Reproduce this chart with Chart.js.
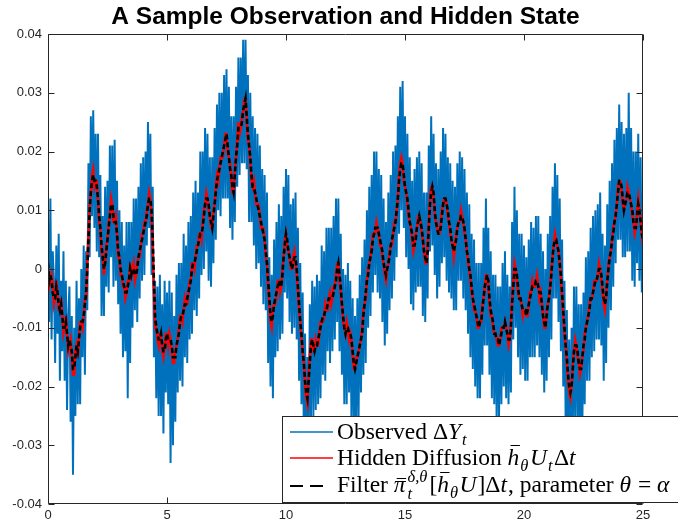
<!DOCTYPE html>
<html><head><meta charset="utf-8">
<style>html,body{margin:0;padding:0;background:#fff}canvas{display:block}</style>
<script src="https://cdn.jsdelivr.net/npm/chart.js@4/dist/chart.umd.min.js"></script>
</head><body>
<div style="width:678px;height:527px"><canvas id="c" width="678" height="527"></canvas></div>
<script>
const titleText = 'A Sample Observation and Hidden State';
const xTickValues = [0, 5, 10, 15, 20, 25];
const yTickValues = [-0.04, -0.03, -0.02, -0.01, 0, 0.01, 0.02, 0.03, 0.04];
const sampleStep = 0.05;

// Observed increments ΔY_t (sampled every 0.05)
const observed = [
.009,-.009,.012,-.012,.003,-.002,-.016,.004,-.011,.006,-.019,-.002,-.014,.003,-.019,-.002,-.024,-.008,-.003,-.026,-.008,
-.035,-.010,-.025,-.002,-.023,-.005,-.023,.000,-.015,.004,-.018,.003,-.007,.018,.002,.026,.009,.027,.007,.023,
.003,.023,.002,.016,-.008,.009,-.008,.014,-.003,.015,-.004,.021,.002,.021,-.003,.022,-.002,.015,-.006,.010,
-.011,.008,-.015,.004,-.014,.008,-.022,.008,-.016,.008,-.010,.012,-.007,.012,-.009,.014,-.005,.018,-.002,.019,
-.001,.020,.004,.025,.007,.023,-.001,.014,-.015,-.002,-.022,-.003,-.025,-.001,-.025,-.006,-.028,-.002,-.021,-.004,
-.023,-.002,-.033,-.004,-.030,-.008,-.026,-.001,-.021,.001,-.019,.001,-.020,.006,-.015,.004,-.016,.008,-.012,.009,
-.011,.013,-.007,.015,-.008,.013,-.005,.020,-.001,.020,.000,.024,.003,.023,-.002,.019,-.003,.019,.001,.024,
.005,.028,.010,.030,.009,.030,.012,.033,.012,.034,.012,.031,.007,.026,.005,.026,.008,.031,.014,.036,
.016,.036,.018,.039,.018,.039,.017,.033,.008,.030,.008,.026,.004,.024,.000,.023,.001,.021,-.003,.017,
-.006,.016,-.007,.013,-.016,.002,-.020,-.001,-.022,.005,-.015,.008,-.014,.011,-.012,.009,-.011,.014,-.004,.017,
-.005,.016,-.009,.011,-.011,.012,-.010,.013,-.012,.007,-.019,.001,-.023,-.004,-.029,-.011,-.036,-.015,-.031,-.006,
-.025,-.002,-.025,-.003,-.024,-.001,-.023,-.002,-.022,.004,-.018,.003,-.019,.007,-.014,.007,-.016,.007,-.014,.009,
-.012,.012,-.009,.012,-.014,.006,-.018,.000,-.023,-.001,-.023,.001,-.021,-.002,-.026,-.005,-.027,-.008,-.028,-.005,
-.025,-.001,-.021,.002,-.018,.005,-.016,.010,-.010,.014,-.008,.016,-.004,.020,-.001,.020,-.004,.017,-.005,.016,
-.009,.012,-.013,.008,-.011,.013,-.007,.016,-.005,.020,-.002,.021,.002,.026,.006,.031,.010,.032,.007,.026,
.002,.023,.000,.019,-.006,.015,-.007,.017,-.004,.019,-.003,.020,-.003,.018,-.008,.013,-.009,.013,-.005,.021,
.003,.026,.004,.023,-.001,.018,-.005,.017,-.003,.020,.001,.024,.002,.023,-.002,.019,-.004,.018,-.005,.015,
-.007,.014,-.007,.018,-.002,.020,-.002,.019,-.005,.017,-.007,.013,-.011,.011,-.015,.006,-.017,.005,-.020,.001,
-.022,.001,-.022,.001,-.018,.007,-.013,.012,-.013,.007,-.018,.003,-.022,-.001,-.023,-.001,-.026,-.003,-.026,-.003,
-.023,.001,-.020,.003,-.022,-.001,-.023,-.003,-.021,.008,-.012,.014,-.010,.010,-.015,.006,-.018,.006,-.017,.004,
-.019,.002,-.019,.005,-.015,.008,-.015,.007,-.015,.009,-.013,.009,-.015,.006,-.018,.003,-.021,.000,-.019,.006,
-.015,.009,-.012,.014,-.005,.018,-.005,.016,-.009,.012,-.014,.005,-.020,-.002,-.026,-.007,-.032,-.012,-.033,-.010,
-.028,-.003,-.026,-.003,-.026,-.006,-.030,-.006,-.028,-.004,-.023,.002,-.019,.003,-.019,.007,-.015,.009,-.014,.010,
-.012,.011,-.012,.013,-.013,.006,-.019,.004,-.016,.011,-.010,.015,-.007,.018,-.003,.022,.001,.024,.005,.028,
.005,.025,.002,.023,.002,.024,.003,.030,.003,.024,-.002,.020,-.003,.020,.001,.023,-.002,.019,-.004,.013
];

// Hidden diffusion h̄θ·U_t·Δt (sampled every 0.05)
const hidden = [
0,
-.003,-.002,-.001,-.003,-.006,-.005,-.002,-.004,-.007,-.007,-.005,-.008,-.011,-.010,-.008,-.011,-.014,-.013,-.012,-.015,
-.018,-.018,-.014,-.013,-.015,-.012,-.009,-.009,-.010,-.008,-.005,-.005,.001,.006,.011,.013,.016,.017,.014,.015,
.015,.012,.008,.007,.003,.002,-.001,.001,.004,.005,.008,.009,.012,.011,.008,.008,.009,.006,.002,.002,
-.001,-.001,-.003,-.003,-.005,-.004,-.002,-.002,.001,-.001,0,.001,-.002,-.001,.001,.002,.002,.004,.006,.006,
.008,.008,.010,.011,.013,.012,.009,.004,-.004,-.010,-.010,-.012,-.013,-.011,-.011,-.014,-.015,-.013,-.011,-.011,
-.013,-.011,-.012,-.014,-.016,-.016,-.014,-.013,-.012,-.010,-.008,-.008,-.009,-.007,-.005,-.006,-.006,-.004,-.002,-.002,
.001,.001,0,.002,.004,.004,.006,.006,.005,.008,.010,.011,.013,.012,.010,.009,.007,.007,.010,.011,
.014,.016,.015,.017,.019,.019,.019,.021,.023,.023,.020,.019,.018,.015,.013,.013,.017,.019,.022,.025,
.023,.024,.026,.027,.029,.029,.025,.022,.021,.018,.015,.014,.015,.013,.011,.011,.011,.009,.007,.007,
.007,.005,.002,.001,-.003,-.006,-.009,-.010,-.007,-.006,-.006,-.004,-.002,-.002,-.004,-.003,0,.002,.005,.006,
.004,.003,.002,0,0,.002,.003,.001,-.001,-.004,-.007,-.009,-.012,-.014,-.016,-.020,-.022,-.023,-.018,-.015,
-.012,-.012,-.014,-.014,-.012,-.013,-.013,-.011,-.009,-.009,-.009,-.008,-.006,-.007,-.007,-.005,-.004,-.006,-.005,-.003,
-.003,-.001,.001,.001,-.002,-.004,-.006,-.009,-.010,-.011,-.009,-.010,-.012,-.011,-.012,-.015,-.017,-.017,-.015,-.015,
-.014,-.013,-.012,-.010,-.007,-.006,-.005,-.002,0,.001,.002,.004,.006,.006,.006,.008,.007,.006,.004,.004,
.002,.001,-.001,-.002,0,.001,.003,.004,.004,.006,.008,.008,.010,.012,.016,.018,.019,.018,.015,.014,
.013,.011,.009,.008,.007,.005,.003,.004,.006,.007,.009,.009,.008,.006,.005,.003,.001,.001,.004,.008,
.012,.014,.014,.012,.009,.008,.007,.006,.006,.008,.010,.011,.012,.012,.011,.009,.008,.006,.005,.004,
.002,.004,.006,.007,.008,.008,.010,.009,.008,.006,.005,.003,.001,0,-.002,-.004,-.005,-.007,-.007,-.008,
-.010,-.010,-.009,-.009,-.006,-.005,-.003,-.001,-.001,-.003,-.006,-.008,-.008,-.010,-.011,-.011,-.012,-.013,-.013,-.012,
-.010,-.010,-.010,-.009,-.010,-.011,-.013,-.012,-.009,-.005,-.002,.001,0,-.002,-.004,-.005,-.005,-.006,-.008,-.007,
-.007,-.008,-.008,-.006,-.004,-.004,-.002,-.003,-.003,-.002,-.001,-.003,-.005,-.004,-.006,-.008,-.010,-.010,-.007,-.006,
-.005,-.003,0,.002,.004,.006,.005,.004,.003,.001,-.002,-.005,-.008,-.011,-.013,-.016,-.019,-.021,-.022,-.020,
-.016,-.014,-.012,-.013,-.015,-.016,-.018,-.017,-.015,-.014,-.011,-.010,-.009,-.008,-.006,-.005,-.005,-.004,-.002,-.002,
-.002,-.001,.001,0,-.002,-.004,-.006,-.007,-.004,-.002,.001,.002,.003,.005,.007,.008,.009,.011,.014,.015,
.015,.013,.011,.010,.011,.012,.014,.013,.012,.011,.009,.008,.006,.007,.010,.012,.010,.008,.006,.004
];

// Filter estimate (sampled every 0.05)
const filterEst = [
.001,
-.002,-.001,-.002,-.004,-.005,-.005,-.003,-.004,-.006,-.007,-.006,-.008,-.010,-.010,-.009,-.011,-.013,-.012,-.013,-.014,
-.017,-.017,-.015,-.013,-.014,-.012,-.010,-.009,-.009,-.008,-.006,-.004,0,.005,.010,.013,.015,.016,.015,.015,
.014,.012,.009,.007,.004,.002,0,.001,.003,.005,.007,.009,.011,.011,.009,.008,.008,.006,.003,.002,
0,-.001,-.002,-.003,-.004,-.004,-.003,-.002,0,-.001,0,0,-.001,-.001,0,.002,.003,.004,.005,.006,
.007,.008,.009,.011,.012,.012,.010,.005,-.002,-.008,-.010,-.011,-.012,-.012,-.011,-.013,-.014,-.014,-.012,-.011,
-.012,-.012,-.012,-.013,-.015,-.015,-.015,-.013,-.012,-.011,-.009,-.008,-.008,-.007,-.006,-.006,-.005,-.004,-.003,-.002,
0,.001,.001,.002,.003,.004,.005,.006,.006,.007,.009,.011,.012,.012,.011,.009,.008,.007,.009,.011,
.013,.015,.016,.017,.018,.019,.020,.021,.022,.023,.021,.019,.017,.016,.014,.013,.016,.019,.021,.024,
.024,.024,.025,.027,.028,.029,.026,.023,.021,.019,.016,.014,.014,.013,.012,.011,.010,.009,.008,.007,
.006,.005,.003,.001,-.002,-.005,-.008,-.009,-.008,-.006,-.005,-.004,-.003,-.002,-.003,-.003,-.001,.002,.004,.006,
.005,.003,.002,.001,0,.001,.002,.002,0,-.003,-.006,-.009,-.011,-.014,-.016,-.019,-.021,-.022,-.019,-.016,
-.013,-.012,-.013,-.014,-.013,-.013,-.012,-.011,-.010,-.009,-.008,-.008,-.007,-.007,-.006,-.005,-.005,-.005,-.005,-.004,
-.003,-.002,0,.001,-.001,-.003,-.006,-.008,-.010,-.011,-.010,-.010,-.011,-.011,-.012,-.014,-.016,-.017,-.016,-.015,
-.014,-.013,-.012,-.011,-.008,-.006,-.004,-.002,-.001,.001,.002,.003,.005,.006,.007,.007,.007,.006,.005,.004,
.003,.001,0,-.001,0,.001,.002,.004,.005,.006,.007,.008,.010,.012,.015,.017,.018,.018,.016,.014,
.013,.012,.010,.008,.007,.006,.004,.004,.005,.007,.008,.009,.008,.007,.005,.003,.002,.001,.003,.007,
.011,.013,.014,.013,.010,.008,.007,.006,.006,.007,.009,.011,.012,.012,.011,.010,.008,.007,.005,.004,
.003,.004,.005,.007,.008,.008,.009,.009,.008,.007,.005,.003,.002,0,-.001,-.003,-.005,-.006,-.007,-.008,
-.009,-.010,-.009,-.009,-.007,-.005,-.003,-.002,-.001,-.002,-.005,-.007,-.008,-.009,-.011,-.011,-.012,-.012,-.013,-.012,
-.011,-.010,-.010,-.009,-.010,-.011,-.012,-.012,-.010,-.006,-.003,0,0,-.001,-.003,-.005,-.005,-.006,-.007,-.007,
-.007,-.008,-.007,-.006,-.005,-.004,-.003,-.003,-.003,-.002,-.002,-.003,-.004,-.004,-.006,-.008,-.009,-.010,-.008,-.006,
-.005,-.003,-.001,.002,.004,.005,.005,.004,.003,.001,-.001,-.004,-.007,-.010,-.013,-.015,-.018,-.020,-.021,-.020,
-.017,-.014,-.013,-.013,-.014,-.016,-.017,-.017,-.015,-.013,-.012,-.010,-.009,-.008,-.007,-.005,-.005,-.004,-.003,-.002,
-.002,-.001,0,0,-.001,-.003,-.005,-.006,-.005,-.002,0,.002,.003,.005,.006,.008,.009,.011,.013,.015,
.015,.014,.012,.010,.011,.012,.013,.013,.012,.011,.010,.008,.007,.007,.009,.011,.010,.008,.006,.005
];

const seriesColors = ['#0072BD', '#FF0000', '#000000'];

const toPoints = (arr, step) => arr.map((v, i) => ({ x: i * step, y: v }));

const frame = {
  id: 'frame',
  afterDatasetsDraw(chart) {
    const { ctx, chartArea: a, scales } = chart;
    ctx.save();
    ctx.strokeStyle = '#262626';
    ctx.lineWidth = 1;
    const L = Math.round(a.left) + 0.5, R = Math.round(a.right) - 0.5;
    const T = Math.round(a.top) + 0.5, B = Math.round(a.bottom) - 0.5;
    ctx.beginPath();
    ctx.rect(L, T, R - L, B - T);
    const tl = 6;
    xTickValues.forEach(v => {
      const px = Math.round(scales.x.getPixelForValue(v)) + 0.5;
      ctx.moveTo(px, B); ctx.lineTo(px, B - tl);
      ctx.moveTo(px, T); ctx.lineTo(px, T + tl);
    });
    yTickValues.forEach(v => {
      const py = Math.round(scales.y.getPixelForValue(v)) + 0.5;
      ctx.moveTo(L, py); ctx.lineTo(L + tl, py);
      ctx.moveTo(R, py); ctx.lineTo(R - tl, py);
    });
    ctx.stroke();
    ctx.restore();
  }
};

// rich text: parts of {t, it, sub, sup, bar, ss}
function drawRich(ctx, x, y, parts, size) {
  const fam = '"Liberation Serif", "DejaVu Serif", serif';
  const font = (it, s) => (it ? 'italic ' : '') + s + 'px ' + fam;
  parts.forEach(p => {
    if (p.ss) {
      const s = size * 0.7;
      ctx.font = font(true, s);
      const w1 = ctx.measureText(p.ss[0]).width;
      ctx.fillText(p.ss[0], x + 1, y + size * 0.28);
      const w2 = ctx.measureText(p.ss[1]).width;
      ctx.fillText(p.ss[1], x + 1, y - size * 0.42);
      x += Math.max(w1, w2) + 3;
      return;
    }
    const s = (p.sub || p.sup) ? size * 0.7 : size;
    ctx.font = font(p.it, s);
    const dy = p.sub ? size * 0.25 : (p.sup ? -size * 0.4 : 0);
    const w = ctx.measureText(p.t).width;
    ctx.fillText(p.t, x, y + dy);
    if (p.bar) {
      const by = Math.round(y - p.bar * size) + 0.5;
      ctx.save();
      ctx.lineWidth = 1;
      ctx.beginPath();
      ctx.moveTo(x + w * 0.25, by);
      ctx.lineTo(x + w * 1.05, by);
      ctx.stroke();
      ctx.restore();
    }
    x += w + (p.sub ? 1.5 : (p.it ? 1 : 0));
  });
  return x;
}

const legendRows = [
  { color: seriesColors[0], dash: false, parts: [{ t: 'Observed ' }, { t: '\u0394' }, { t: 'Y', it: true }, { t: 't', it: true, sub: true }] },
  { color: seriesColors[1], dash: false, parts: [{ t: 'Hidden Diffusion ' }, { t: 'h', it: true, bar: 0.86 }, { t: '\u03B8', it: true, sub: true }, { t: 'U', it: true }, { t: 't', it: true, sub: true }, { t: '\u0394' }, { t: 't', it: true }] },
  { color: seriesColors[2], dash: true, parts: [{ t: 'Filter ' }, { t: '\u03C0', it: true, bar: 0.6 }, { ss: ['t', '\u03B4,\u03B8'] }, { t: '[' }, { t: 'h', it: true, bar: 0.86 }, { t: '\u03B8', it: true, sub: true }, { t: 'U', it: true }, { t: ']' }, { t: '\u0394' }, { t: 't', it: true }, { t: ', parameter ' }, { t: '\u03B8', it: true }, { t: ' = ' }, { t: '\u03B1', it: true }] }
];

const legendBox = {
  id: 'legendBox',
  afterDraw(chart) {
    const { ctx } = chart;
    ctx.save();
    ctx.fillStyle = '#fff';
    ctx.fillRect(282.5, 416.5, 500, 86);
    ctx.strokeStyle = '#262626';
    ctx.lineWidth = 1;
    ctx.strokeRect(282.5, 416.5, 500, 86);
    const lineY = [432, 458, 486];
    const textY = [439, 465, 492];
    legendRows.forEach((r, i) => {
      ctx.strokeStyle = r.color;
      ctx.lineWidth = r.dash ? 2 : 1.5;
      ctx.beginPath();
      if (r.dash) {
        ctx.moveTo(290, lineY[i]); ctx.lineTo(303, lineY[i]);
        ctx.moveTo(310, lineY[i]); ctx.lineTo(323, lineY[i]);
      } else {
        ctx.moveTo(290, lineY[i]); ctx.lineTo(333, lineY[i]);
      }
      ctx.stroke();
      ctx.fillStyle = '#000';
      ctx.strokeStyle = '#000';
      ctx.textBaseline = 'alphabetic';
      drawRich(ctx, 337, textY[i], r.parts, 23.5);
    });
    ctx.restore();
  }
};

const tickFont = { family: '"Liberation Sans", Arial, Helvetica, sans-serif', size: 13 };

new Chart(document.getElementById('c'), {
  type: 'line',
  data: {
    datasets: [
      { label: 'Observed', data: toPoints(observed, sampleStep), borderColor: seriesColors[0], borderWidth: 2, pointRadius: 0, order: 3 },
      { label: 'Hidden Diffusion', data: toPoints(hidden, sampleStep), borderColor: seriesColors[1], borderWidth: 2.5, pointRadius: 0, order: 2 },
      { label: 'Filter', data: toPoints(filterEst, sampleStep), borderColor: seriesColors[2], borderWidth: 2.6, borderDash: [5, 3], pointRadius: 0, order: 1 }
    ]
  },
  options: {
    responsive: false,
    animation: false,
    devicePixelRatio: 1,
    layout: { padding: { left: 0, right: 35, top: 0, bottom: 0 } },
    plugins: {
      legend: { display: false },
      tooltip: { enabled: false },
      title: {
        display: true, text: titleText, fullSize: false, color: '#000',
        font: { family: '"Liberation Sans", Arial, Helvetica, sans-serif', size: 24.5, weight: 'bold', lineHeight: '28px' },
        padding: { top: 3, bottom: 3 }
      }
    },
    scales: {
      x: {
        type: 'linear', min: 0, max: 25,
        afterBuildTicks: s => { s.ticks = xTickValues.map(v => ({ value: v })); },
        grid: { display: false, drawTicks: false }, border: { display: false },
        ticks: { color: '#262626', font: tickFont, padding: 4, maxRotation: 0, autoSkip: false, callback: v => String(v) },
        afterFit: s => { s.height = 23; }
      },
      y: {
        type: 'linear', min: -0.04, max: 0.04,
        afterBuildTicks: s => { s.ticks = yTickValues.map(v => ({ value: v })); },
        grid: { display: false, drawTicks: false }, border: { display: false },
        ticks: { color: '#262626', font: tickFont, padding: 6, autoSkip: false, callback: v => String(+v.toFixed(2)) },
        afterFit: s => { s.width = 48; }
      }
    }
  },
  plugins: [frame, legendBox]
});
</script>
</body></html>
